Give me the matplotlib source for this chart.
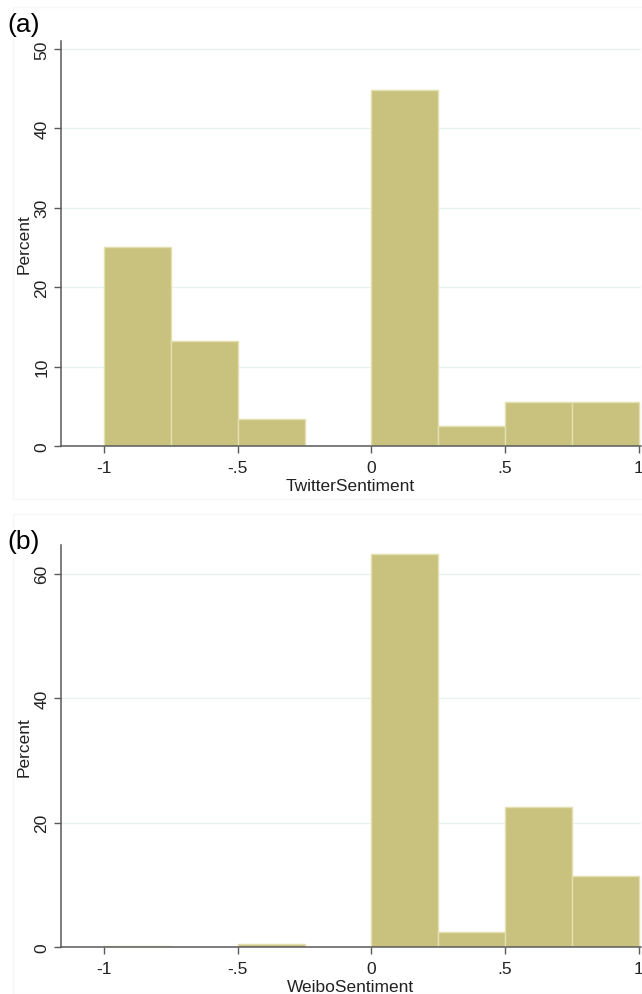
import matplotlib
matplotlib.use("Agg")
import matplotlib.pyplot as plt
from matplotlib.patches import Rectangle

plt.rcParams['font.family'] = ['Liberation Sans', 'DejaVu Sans']

# ---- data ----
bin_edges = [-1.0, -0.75, -0.5, -0.25, 0.0, 0.25, 0.5, 0.75, 1.0]
twitter_pct = [25.0, 13.2, 3.4, 0.0, 44.8, 2.5, 5.5, 5.5]
weibo_pct = [0.2, 0.0, 0.5, 0.0, 63.1, 2.4, 22.5, 11.4]
xtick_vals = [-1, -0.5, 0, 0.5, 1]
xtick_labels = ['-1', '-.5', '0', '.5', '1']
ticks_a = [0, 10, 20, 30, 40, 50]
ticks_b = [0, 20, 40, 60]
panel_labels = ['(a)', '(b)']
xlabels = ['TwitterSentiment', 'WeiboSentiment']
ylabel = 'Percent'

BAR = '#c9c27f'
EDGE = '#e3dfae'
GRID = '#e9f1f2'
AXC = '#5a5a5a'
TXT = '#222222'

fig = plt.figure(figsize=(6.42, 9.95), dpi=100)
fig.patch.set_facecolor('white')

W, H = 642, 995
def fx(px): return px / W
def fy(py): return 1 - py / H

specs = [
    dict(vals=twitter_pct, ticks=ticks_a, ytop=51.0, top=42, bottom=447, lab_y=25),
    dict(vals=weibo_pct, ticks=ticks_b, ytop=64.6, top=546, bottom=948, lab_y=542),
]

FS = 12.5
left_px, right_px = 60.6, 640.5
for i, s in enumerate(specs):
    ax = fig.add_axes([fx(left_px), fy(s['bottom']), fx(right_px) - fx(left_px),
                       fy(s['top']) - fy(s['bottom'])])
    widths = [bin_edges[k + 1] - bin_edges[k] for k in range(len(s['vals']))]
    ax.bar(bin_edges[:-1], s['vals'], width=widths, align='edge', color=BAR,
           edgecolor=EDGE, linewidth=1.0, zorder=2)
    ax.set_xlim(-1.163, 1.007)
    ax.set_ylim(0, s['ytop'])
    for t in s['ticks'][1:]:
        ax.axhline(t, color=GRID, linewidth=1.0, zorder=1)
    ax.set_yticks(s['ticks'])
    ax.set_yticklabels([str(t) for t in s['ticks']], rotation=90, va='center',
                       fontsize=FS, color=TXT)
    ax.set_xticks(xtick_vals)
    ax.set_xticklabels(xtick_labels, fontsize=FS, color=TXT)
    ax.tick_params(axis='x', direction='out', length=5, width=1, color=AXC, pad=5)
    ax.tick_params(axis='y', direction='out', length=5, width=1, color=AXC, pad=3)
    for sp in ['top', 'right']:
        ax.spines[sp].set_visible(False)
    for sp in ['left', 'bottom']:
        ax.spines[sp].set_color(AXC)
        ax.spines[sp].set_linewidth(1.1)
    ax.set_xlabel(xlabels[i], fontsize=FS, color=TXT, labelpad=2.5)
    ax.set_ylabel(ylabel, fontsize=FS, color=TXT, labelpad=2)
    ax.set_facecolor('white')
    fig.text(fx(7), fy(s['lab_y']), panel_labels[i], fontsize=19, color='black',
             ha='left', va='center')

# faint graph-region outlines
for (t, b) in [(8, 500), (515, 995)]:
    fig.add_artist(Rectangle((fx(13), fy(b)), fx(642) - fx(13), fy(t) - fy(b),
                             transform=fig.transFigure, fill=False,
                             edgecolor='#f6f8f8', linewidth=1.0))

fig.savefig('out.png', dpi=100, facecolor='white')
